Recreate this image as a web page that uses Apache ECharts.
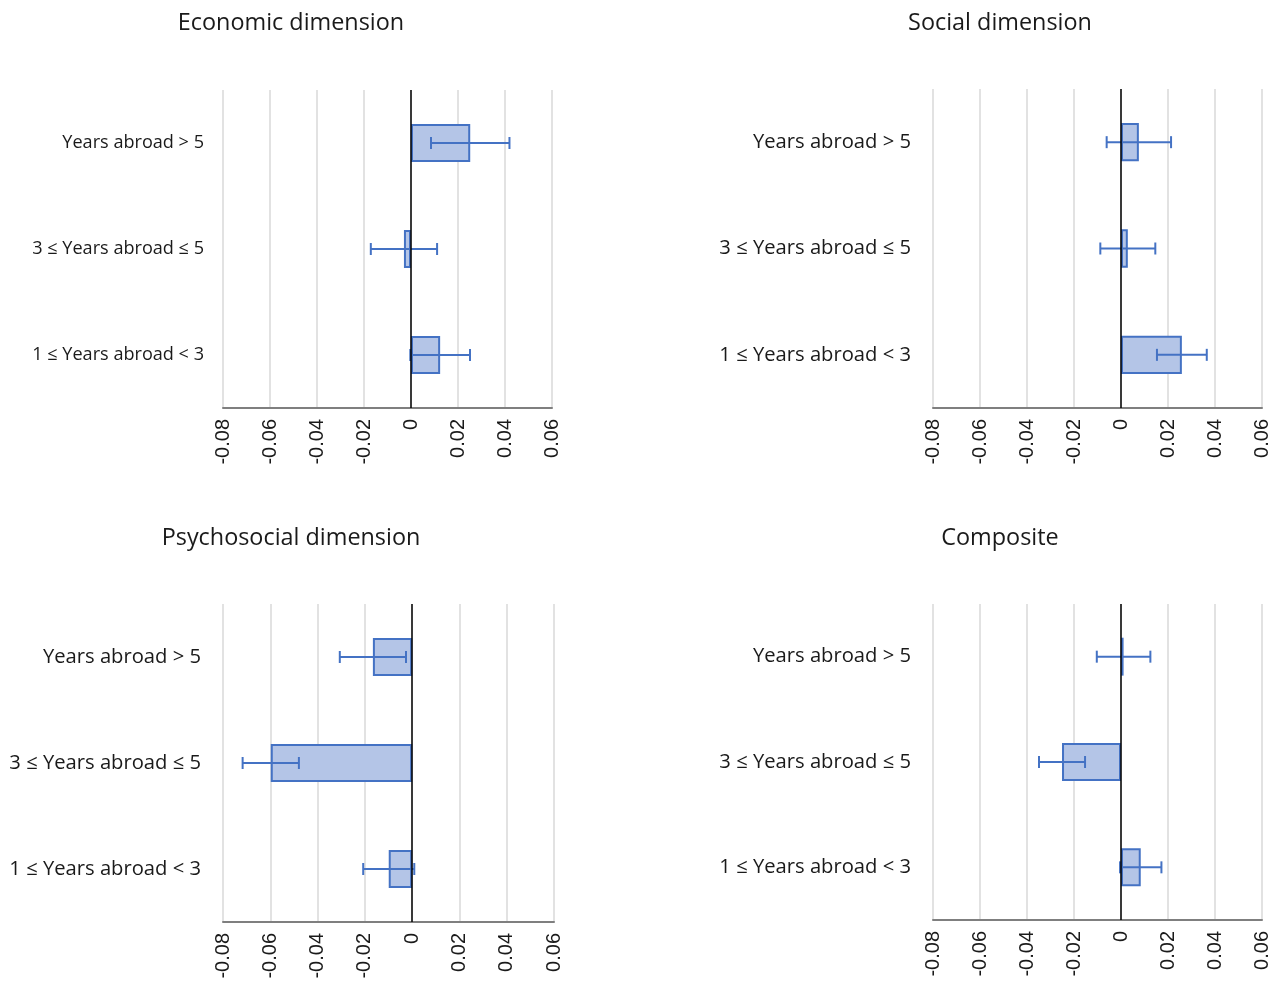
<!DOCTYPE html>
<html>
<head>
<meta charset="utf-8">
<title>Effects by years abroad</title>
<script src="https://cdn.jsdelivr.net/npm/echarts@6/dist/echarts.min.js"></script>
<style>
  html, body { margin: 0; padding: 0; background: #ffffff; }
  #chart { width: 1275px; height: 984px; }
</style>
</head>
<body>
<div id="chart"></div>
<script>
// Groups shown on each panel, top to bottom
const categories = ['Years abroad > 5', '3 \u2264 Years abroad \u2264 5', '1 \u2264 Years abroad < 3'];

// Point estimates and half-widths of the error bars, per dimension
const economicValues = [0.0252, -0.0030, 0.0124];
const economicErrors = [0.0167, 0.0141, 0.0127];

const socialValues = [0.0076, 0.0029, 0.0259];
const socialErrors = [0.0137, 0.0117, 0.0106];

const psychosocialValues = [-0.0166, -0.0598, -0.0099];
const psychosocialErrors = [0.0140, 0.0119, 0.0108];

const compositeValues = [0.0011, -0.0251, 0.0084];
const compositeErrors = [0.0114, 0.0098, 0.0088];

// Value axis range and tick step
const axisMin = -0.08;
const axisMax = 0.06;
const axisStep = 0.02;

const panels = [
  { title: 'Economic dimension', values: economicValues, errors: economicErrors,
    grid: { left: 223, top: 90, width: 329, height: 318 }, titleX: 291, titleY: 23, catSize: 18.1, catMargin: 19 },
  { title: 'Social dimension', values: socialValues, errors: socialErrors,
    grid: { left: 933, top: 89, width: 329, height: 319 }, titleX: 1000, titleY: 23, catSize: 20.2, catMargin: 22 },
  { title: 'Psychosocial dimension', values: psychosocialValues, errors: psychosocialErrors,
    grid: { left: 223, top: 604, width: 331, height: 318 }, titleX: 291, titleY: 538, catSize: 20.2, catMargin: 22 },
  { title: 'Composite', values: compositeValues, errors: compositeErrors,
    grid: { left: 933, top: 604, width: 329, height: 316 }, titleX: 1000, titleY: 538, catSize: 20.2, catMargin: 22 }
];

const blue = '#4472c4';
const fill = '#b4c5e7';
const textColor = '#1a1a1a';

function tickText(v) {
  const r = Math.round(v * 100) / 100;
  return r === 0 ? '0' : r.toFixed(2);
}

function errorBarItem(params, api) {
  const cat = api.value(2);
  const lo = api.coord([api.value(0), cat]);
  const hi = api.coord([api.value(1), cat]);
  const cap = 6;
  const style = { stroke: blue, lineWidth: 2, fill: null };
  return {
    type: 'group',
    children: [
      { type: 'line', shape: { x1: lo[0], y1: lo[1], x2: hi[0], y2: hi[1] }, style },
      { type: 'line', shape: { x1: lo[0], y1: lo[1] - cap, x2: lo[0], y2: lo[1] + cap }, style },
      { type: 'line', shape: { x1: hi[0], y1: hi[1] - cap, x2: hi[0], y2: hi[1] + cap }, style }
    ]
  };
}

const option = {
  backgroundColor: '#ffffff',
  animation: false,
  graphic: [],
  grid: [],
  xAxis: [],
  yAxis: [],
  series: []
};

panels.forEach((p, i) => {
  option.graphic.push({
    type: 'text',
    x: p.titleX,
    y: p.titleY,
    style: {
      text: p.title,
      fontFamily: 'Open Sans',
      fontSize: 23.4,
      fill: textColor,
      textAlign: 'center',
      textVerticalAlign: 'middle'
    }
  });
  option.grid.push(Object.assign({ containLabel: false }, p.grid));
  option.xAxis.push({
    type: 'value',
    gridIndex: i,
    min: axisMin,
    max: axisMax,
    interval: axisStep,
    axisLine: { show: true, onZero: false, lineStyle: { color: '#7f7f7f', width: 2 } },
    axisTick: { show: false },
    splitLine: { show: true, lineStyle: { color: '#d9d9d9', width: 1.5 } },
    axisLabel: {
      rotate: 90,
      margin: 11,
      fontFamily: 'Liberation Sans',
      fontSize: 20,
      color: textColor,
      formatter: tickText
    }
  });
  option.yAxis.push({
    type: 'category',
    gridIndex: i,
    data: categories,
    inverse: true,
    axisLine: { show: false },
    axisTick: { show: false },
    splitLine: { show: false },
    axisLabel: {
      margin: p.catMargin,
      fontFamily: 'Open Sans',
      fontSize: p.catSize,
      color: textColor
    }
  });
  option.series.push({
    type: 'bar',
    xAxisIndex: i,
    yAxisIndex: i,
    data: p.values,
    barWidth: '36%',
    itemStyle: { color: fill, borderColor: blue, borderWidth: 2 },
    markLine: {
      silent: true,
      symbol: ['none', 'none'],
      label: { show: false },
      lineStyle: { color: '#000000', width: 1.5, type: 'solid' },
      data: [{ xAxis: 0 }]
    },
    z: 2
  });
  option.series.push({
    type: 'custom',
    xAxisIndex: i,
    yAxisIndex: i,
    renderItem: errorBarItem,
    encode: { x: [0, 1], y: 2 },
    data: p.values.map((v, k) => [v - p.errors[k], v + p.errors[k], k]),
    z: 4
  });
});

const chart = echarts.init(document.getElementById('chart'), null, { renderer: 'canvas' });
chart.setOption(option);
</script>
</body>
</html>
